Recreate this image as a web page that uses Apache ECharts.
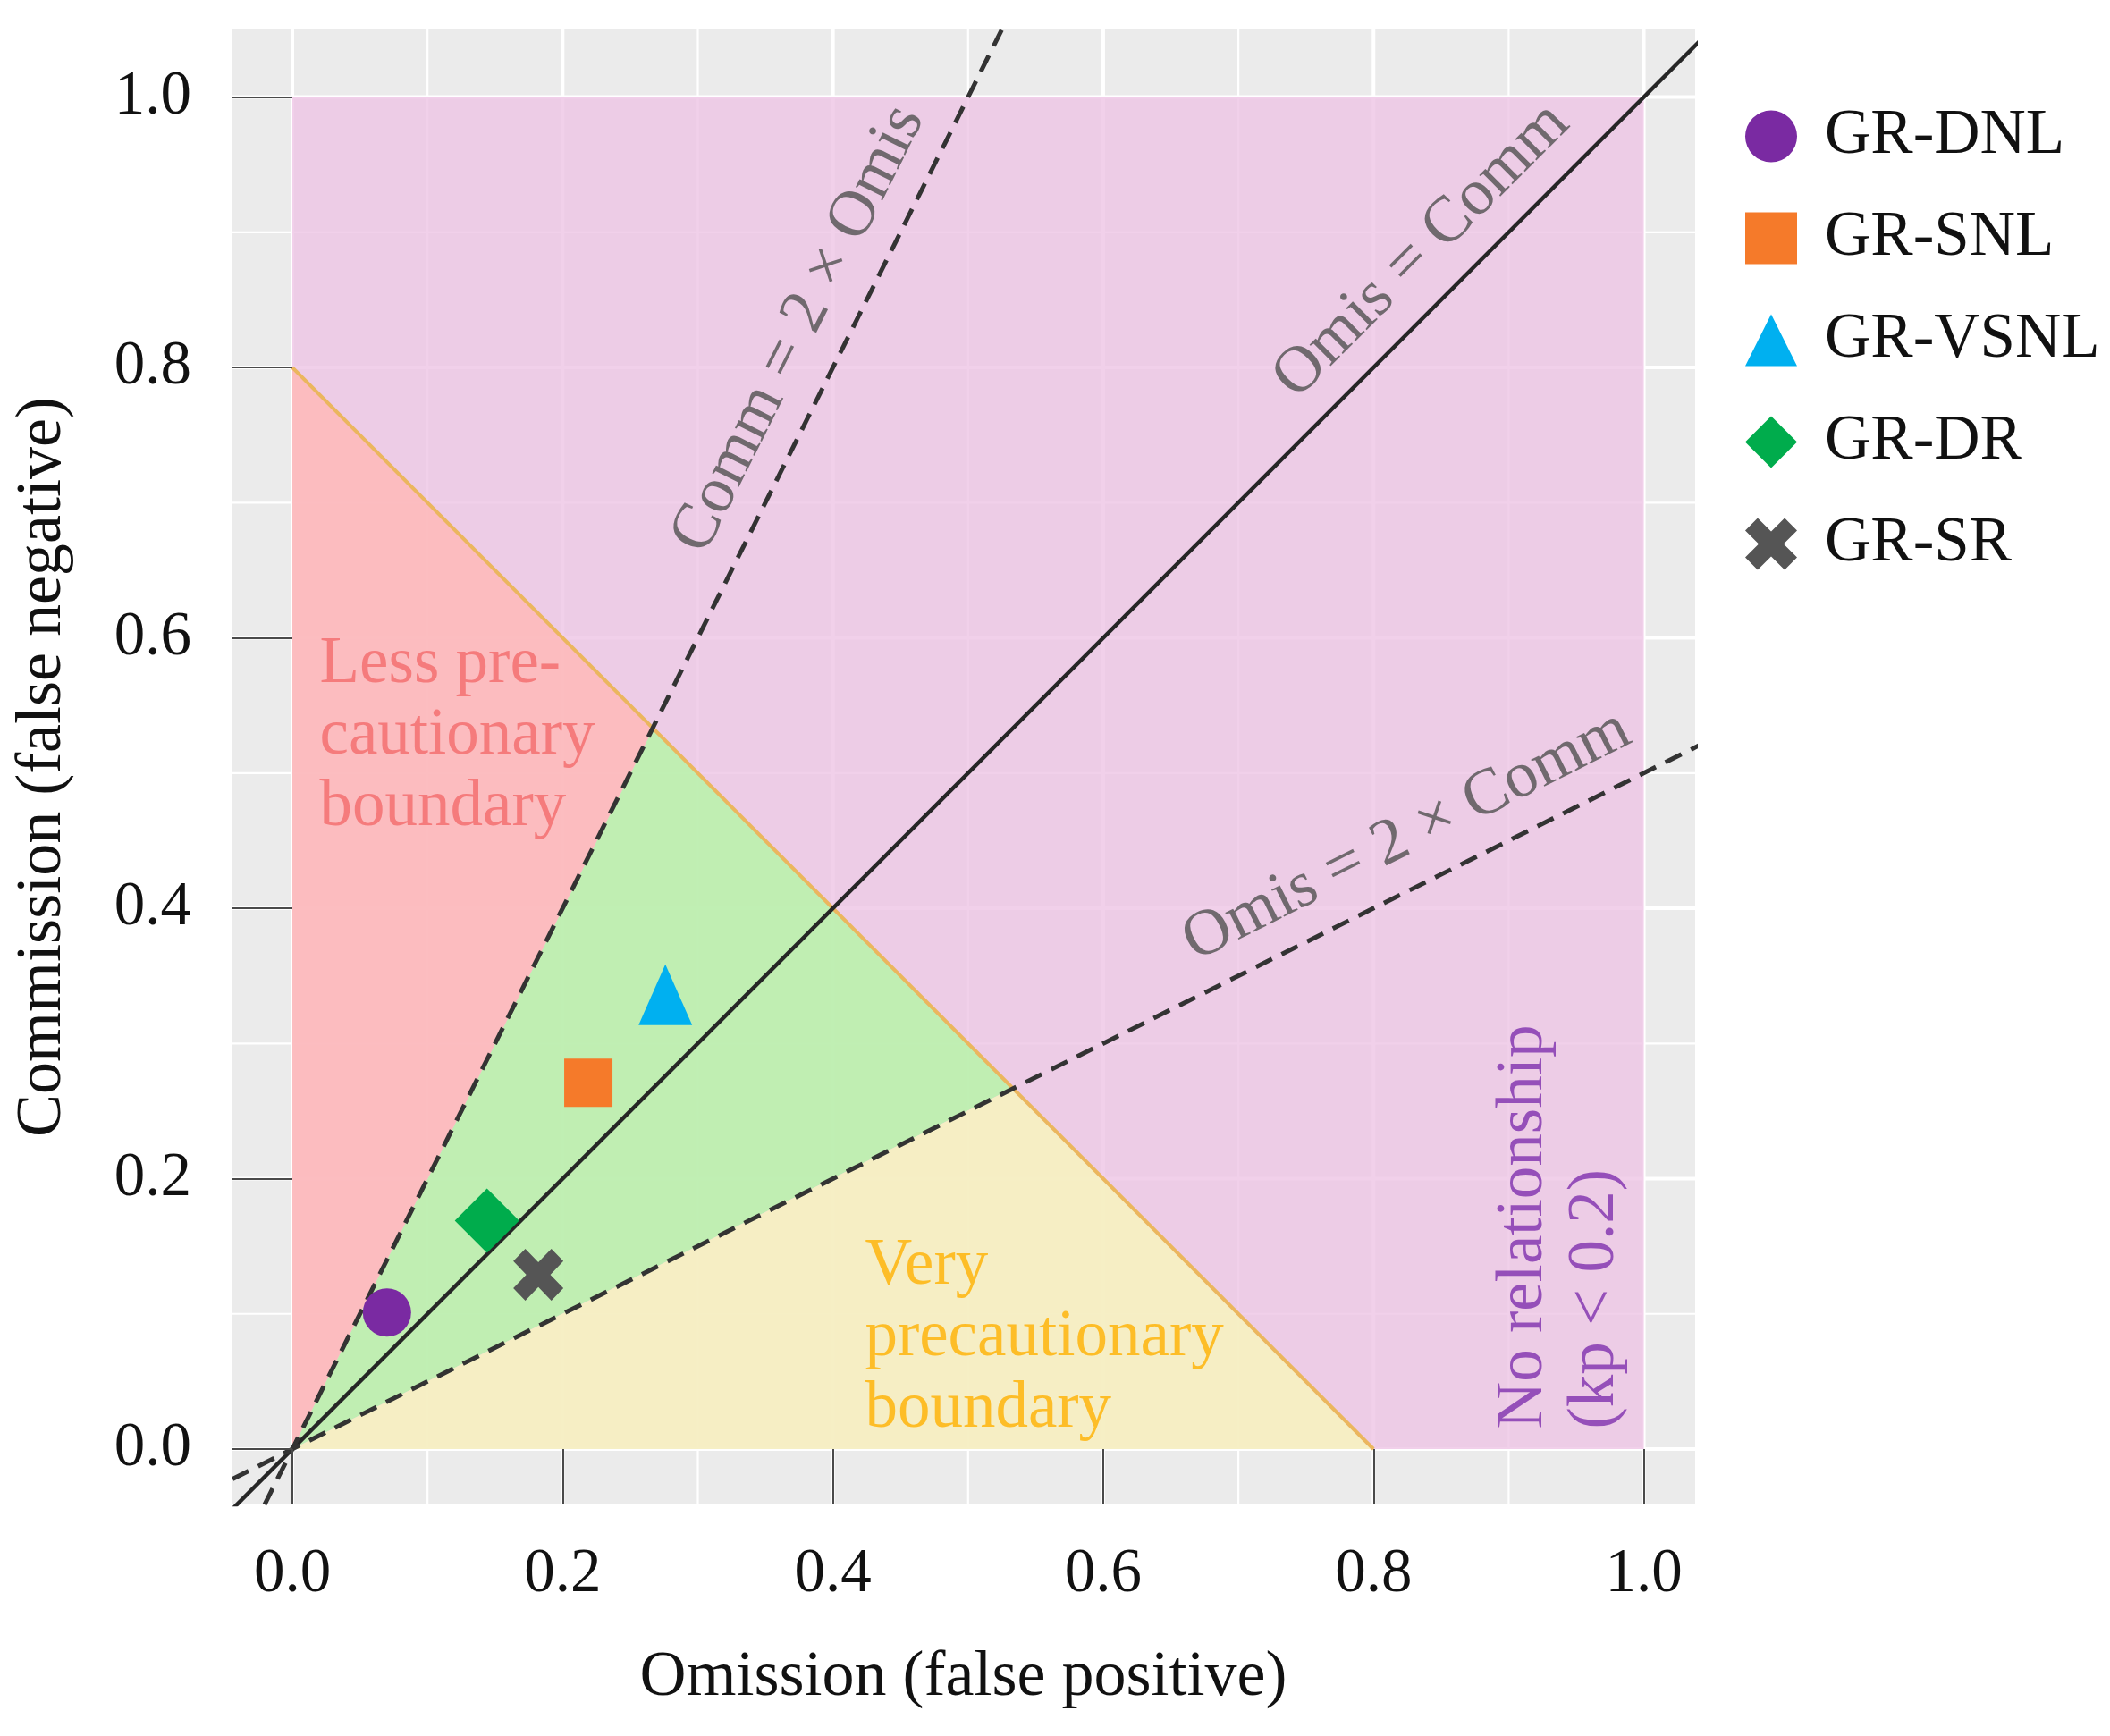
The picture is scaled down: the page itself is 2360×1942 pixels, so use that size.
<!DOCTYPE html>
<html>
<head>
<meta charset="utf-8">
<script src="https://cdn.jsdelivr.net/npm/echarts@6/dist/echarts.min.js"></script>
<style>
  html, body { margin: 0; padding: 0; background: #fff; }
  #main { width: 2360px; height: 1942px; }
</style>
</head>
<body>
<div id="main"></div>
<script>
// 轴范围（ggplot 风格的扩展）
const xRange = [-0.045, 1.038]
const yRange = [-0.041, 1.05]
const tickValues = [0, 0.2, 0.4, 0.6, 0.8, 1.0]
const minorValues = [0.1, 0.3, 0.5, 0.7, 0.9]

// 区域顶点
const pinkRegion = [[0, 0], [1, 0], [1, 1], [0, 1]]
const redRegion = [[0, 0], [0, 0.8], [0.267, 0.533]]
const greenRegion = [[0, 0], [0.267, 0.533], [0.533, 0.267]]
const yellowRegion = [[0, 0], [0.533, 0.267], [0.8, 0]]

// 参考线
const lineEqual = [[-0.06, -0.06], [1.06, 1.06]]
const lineCommDouble = [[-0.03, -0.06], [0.53, 1.06]]
const lineOmisDouble = [[-0.12, -0.06], [1.06, 0.53]]
const lineBoundary = [[0, 0.8], [0.8, 0]]

// 模型点
const models = ['GR-DNL', 'GR-SNL', 'GR-VSNL', 'GR-DR', 'GR-SR']
const omission = [0.070, 0.219, 0.276, 0.144, 0.182]
const commission = [0.101, 0.271, 0.336, 0.169, 0.129]
const colors = ['#7A2AA2', '#F57A2A', '#00B0F0', '#00AC4C', '#555555']
const symbols = ['circle', 'rect', 'triangle', 'diamond',
  'path://M0,2.4 L2.4,0 L5,2.6 L7.6,0 L10,2.4 L7.4,5 L10,7.6 L7.6,10 L5,7.4 L2.4,10 L0,7.6 L2.6,5 Z']
const symbolSizes = [54, 54, [60, 68], [72, 72], [56, 58]]

// 注释文字（位置为数据坐标）
const annotations = [
  { text: 'Comm = 2 × Omis', pos: [0.375, 0.828], rotate: 63.4, color: '#505050', align: 'center' },
  { text: 'Omis = Comm', pos: [0.836, 0.886], rotate: 45, color: '#505050', align: 'center' },
  { text: 'Omis = 2 × Comm', pos: [0.825, 0.453], rotate: 26.6, color: '#505050', align: 'center' },
  { text: 'Less pre-\ncautionary\nboundary', pos: [0.0205, 0.527], rotate: 0, color: '#F26A6C', align: 'left' },
  { text: 'Very\nprecautionary\nboundary', pos: [0.424, 0.082], rotate: 0, color: '#FFB000', align: 'left' },
  { text: 'No relationship\n(kp < 0.2)', pos: [0.9385, 0.0145], rotate: 90, color: '#7E2FAE', align: 'left' }
]

const FONT = '"Liberation Serif", "DejaVu Serif", serif'

const chart = echarts.init(document.getElementById('main'))

// 网格线数据 [值, 方向(0竖/1横), 是否主线]
const gridData = []
tickValues.forEach(v => { gridData.push([v, 0, 1]); gridData.push([v, 1, 1]) })
minorValues.forEach(v => { gridData.push([v, 0, 0]); gridData.push([v, 1, 0]) })

const regions = [
  { poly: pinkRegion, color: 'rgba(238,196,229,0.8)' },
  { poly: redRegion, color: 'rgba(253,187,188,0.92)' },
  { poly: greenRegion, color: 'rgba(188,241,174,0.92)' },
  { poly: yellowRegion, color: 'rgba(246,241,193,0.92)' }
]

const series = []

series.push({
  type: 'custom',
  name: 'grid',
  z: 1,
  silent: true,
  data: gridData,
  renderItem: function (params, api) {
    const cs = params.coordSys
    const v = api.value(0)
    const dir = api.value(1)
    const major = api.value(2)
    let shape
    if (dir === 0) {
      const x = api.coord([v, 0])[0]
      shape = { x1: x, y1: cs.y, x2: x, y2: cs.y + cs.height }
    } else {
      const y = api.coord([0, v])[1]
      shape = { x1: cs.x, y1: y, x2: cs.x + cs.width, y2: y }
    }
    return {
      type: 'line',
      shape,
      style: { stroke: '#ffffff', lineWidth: major ? 4 : 2.2 }
    }
  }
})

series.push({
  type: 'custom',
  name: 'regions',
  z: 2,
  silent: true,
  data: regions.map((r, i) => [i]),
  renderItem: function (params, api) {
    const r = regions[params.dataIndex]
    return {
      type: 'polygon',
      shape: { points: r.poly.map(p => api.coord(p)) },
      style: { fill: r.color }
    }
  }
})

function refLine(name, data, color, width, type) {
  return {
    type: 'line',
    name,
    z: 3,
    silent: true,
    data,
    showSymbol: false,
    symbol: 'none',
    clip: true,
    lineStyle: { color, width, type },
    animation: false
  }
}
series.push(refLine('boundary', lineBoundary, '#EBB65E', 4, 'solid'))
series.push(refLine('equal', lineEqual, '#262626', 4.5, 'solid'))
series.push(refLine('comm2', lineCommDouble, '#333333', 5, [20, 12]))
series.push(refLine('omis2', lineOmisDouble, '#333333', 5, [20, 12]))

series.push({
  type: 'scatter',
  name: 'annotations',
  z: 4,
  silent: true,
  symbolSize: 1,
  itemStyle: { color: 'rgba(0,0,0,0)' },
  data: annotations.map(a => ({
    value: a.pos,
    label: {
      show: true,
      position: [0, 0],
      formatter: a.text,
      rotate: a.rotate,
      color: a.color,
      align: a.align,
      verticalAlign: 'middle',
      fontFamily: FONT,
      fontSize: 73,
      lineHeight: 80
    }
  }))
})

models.forEach((m, i) => {
  series.push({
    type: 'scatter',
    name: m,
    z: 6,
    symbol: symbols[i],
    symbolSize: symbolSizes[i],
    itemStyle: { color: colors[i], opacity: 1 },
    data: [[omission[i], commission[i]]]
  })
})

const option = {
  backgroundColor: '#ffffff',
  animation: false,
  grid: {
    left: 259,
    top: 33,
    width: 1637,
    height: 1650,
    show: true,
    backgroundColor: '#EBEBEB',
    borderWidth: 0
  },
  legend: {
    data: models,
    orient: 'vertical',
    left: 1947,
    top: 112,
    itemWidth: 58,
    itemHeight: 58,
    itemGap: 43,
    textStyle: {
      fontFamily: FONT,
      fontSize: 71,
      color: '#111111',
      padding: [0, 0, 0, 26]
    }
  },
  xAxis: {
    type: 'value',
    min: xRange[0],
    max: xRange[1],
    z: 10,
    name: 'Omission (false positive)',
    nameLocation: 'middle',
    nameGap: 158,
    nameTextStyle: { fontFamily: FONT, fontSize: 72, color: '#111111' },
    axisLine: { show: false, onZero: false },
    axisTick: {
      show: true,
      inside: true,
      length: 62,
      customValues: tickValues,
      lineStyle: { color: '#4a4a4a', width: 2 }
    },
    axisLabel: {
      customValues: tickValues,
      margin: 44,
      fontFamily: FONT,
      fontSize: 69,
      color: '#111111',
      formatter: v => v.toFixed(1)
    },
    splitLine: { show: false }
  },
  yAxis: {
    type: 'value',
    min: yRange[0],
    max: yRange[1],
    z: 10,
    name: 'Commission (false negative)',
    nameLocation: 'middle',
    nameGap: 175,
    nameTextStyle: { fontFamily: FONT, fontSize: 72, color: '#111111' },
    axisLine: { show: false, onZero: false },
    axisTick: {
      show: true,
      inside: true,
      length: 68,
      customValues: tickValues,
      lineStyle: { color: '#4a4a4a', width: 2 }
    },
    axisLabel: {
      customValues: tickValues,
      margin: 45,
      fontFamily: FONT,
      fontSize: 69,
      color: '#111111',
      formatter: v => v.toFixed(1)
    },
    splitLine: { show: false }
  },
  series
}

chart.setOption(option)
window.addEventListener('resize', chart.resize)
</script>
</body>
</html>
